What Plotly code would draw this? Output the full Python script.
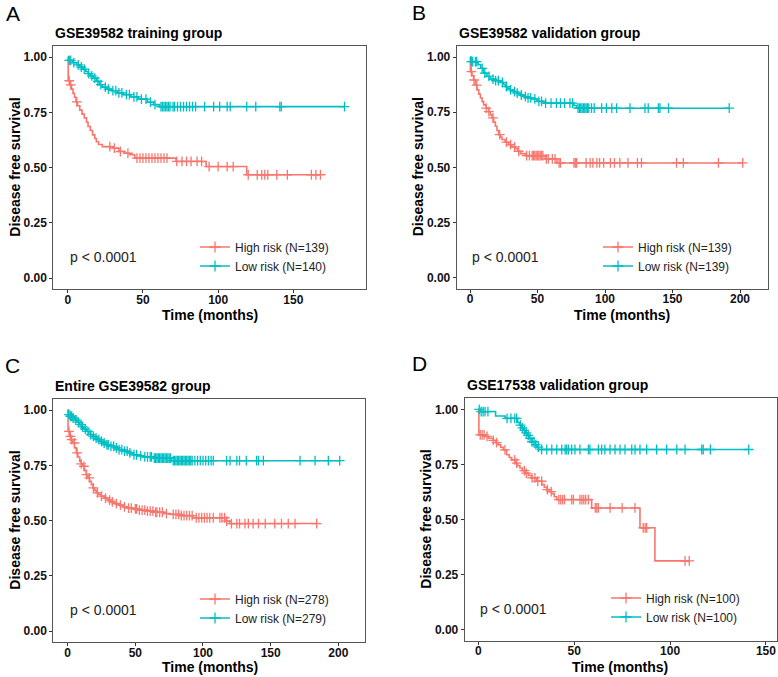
import numpy as np
import plotly.graph_objects as go

HIGH_COLOR = "#F8766D"
LOW_COLOR = "#00BFC4"
FONT = "Liberation Sans, Arial, sans-serif"

# ------------------------------------------------------------------ data
# Kaplan-Meier step points (time in months, survival after the step) and censoring times

# Panel A: GSE39582 training group
a_high_times = [0, 0.3, 1.5, 2.5, 3.5, 4.5, 5.5, 6.5, 8, 9.5, 11, 12.5, 13.5, 15, 16.5, 18, 19, 20.5,
                23, 30, 34, 38, 41, 44.5, 72, 92, 119]
a_high_surv = [1.0, 0.893, 0.874, 0.855, 0.836, 0.818, 0.797, 0.78, 0.76, 0.742, 0.725, 0.705, 0.686,
               0.668, 0.648, 0.632, 0.617, 0.605, 0.595, 0.588, 0.573, 0.565, 0.558, 0.543, 0.528,
               0.505, 0.468]
a_high_end = 168
a_high_cens = [1, 2, 6, 28, 31, 35, 40, 46, 48, 50, 52, 54, 56, 58, 60, 62, 64, 66, 72.5, 76, 79, 82,
               86, 89, 94, 100, 106, 110, 120, 126, 129, 131, 133, 139, 146, 162, 165, 168]
a_low_times = [0, 0.5, 3, 6, 8, 10, 12, 13.5, 15, 17, 19, 21, 23, 26, 29, 33, 37, 42, 47, 53, 57, 61]
a_low_surv = [1.0, 0.985, 0.975, 0.965, 0.955, 0.945, 0.935, 0.925, 0.915, 0.905, 0.89, 0.875, 0.864,
              0.855, 0.848, 0.838, 0.83, 0.82, 0.81, 0.796, 0.785, 0.776]
a_low_end = 184
a_low_cens = [1, 2, 4, 7, 9, 11, 14, 16, 18, 20, 22, 25, 27, 30, 32, 34, 36, 39, 41, 44, 46, 49, 52,
              55, 58, 62, 63, 64, 65, 66, 67, 68, 70, 71, 73, 75, 77, 79, 81, 83, 85, 91, 97, 101,
              106, 108, 119, 125, 141, 142, 184]

# Panel B: GSE39582 validation group
b_high_times = [0, 0.3, 1.5, 2.7, 4, 5.2, 6.5, 7.7, 9, 10.1, 12, 13.8, 15, 16.3, 17.5, 18.8, 20, 21.2,
                22.5, 23.7, 26, 28.6, 31, 33.6, 35.5, 37.3, 41, 55.8, 64.4]
b_high_surv = [1.0, 0.934, 0.915, 0.896, 0.873, 0.851, 0.832, 0.814, 0.798, 0.783, 0.768, 0.753, 0.738,
               0.724, 0.705, 0.686, 0.667, 0.648, 0.637, 0.626, 0.614, 0.603, 0.593, 0.584, 0.573,
               0.562, 0.553, 0.538, 0.52]
b_high_end = 202
b_high_cens = [1, 3, 5, 12, 14, 17, 22, 27, 30, 33, 36, 42, 44, 46, 47, 48, 49, 50, 51, 52, 53, 54,
               56.5, 58, 61, 63, 66, 67, 77, 78, 79, 86, 89, 91, 94, 96, 99, 104, 107, 111, 117, 124,
               127, 153, 158, 184, 202]
b_low_times = [0, 0.5, 6, 8, 10, 12.5, 15, 18, 22.5, 24.5, 26.2, 28, 29.9, 32, 34.8, 37, 39.8, 42.5,
               45.9, 49.6, 54.6, 77, 79]
b_low_surv = [1.0, 0.979, 0.965, 0.949, 0.927, 0.912, 0.9, 0.893, 0.885, 0.876, 0.866, 0.858, 0.851,
              0.843, 0.836, 0.828, 0.821, 0.815, 0.81, 0.799, 0.791, 0.78, 0.768]
b_low_end = 192
b_low_cens = [1, 2, 4, 5, 9, 11, 14, 17, 19, 21, 24, 27, 30, 33, 35, 38, 41, 43, 45, 48, 51, 53, 56,
              60, 64, 67, 70, 74, 76, 80, 81, 82, 83, 84, 85, 86, 87, 88, 90, 92, 97.5, 101, 105,
              108.6, 118.5, 129.6, 132, 139.5, 140.7, 147, 192]

# Panel C: Entire GSE39582 group
c_high_times = [0, 0.3, 1.5, 2.7, 3.9, 5.1, 6.4, 7.6, 8.9, 10, 11.3, 12.5, 13.7, 15, 16.2, 17.5, 18.7,
                20, 21.1, 23, 24.8, 27, 29.8, 32, 34.7, 37.5, 40.9, 44, 48.3, 53, 58.1, 64, 70.4, 76,
                82.8, 92.6, 117.2, 119.7]
c_high_surv = [1.0, 0.904, 0.881, 0.866, 0.851, 0.829, 0.806, 0.788, 0.769, 0.757, 0.746, 0.727,
               0.708, 0.693, 0.678, 0.663, 0.648, 0.637, 0.626, 0.618, 0.611, 0.602, 0.593, 0.585,
               0.577, 0.57, 0.562, 0.557, 0.553, 0.548, 0.543, 0.538, 0.532, 0.528, 0.523, 0.513,
               0.498, 0.487]
c_high_end = 184
c_high_cens = [1, 2, 3, 5, 7, 10, 12, 14, 16, 19, 22, 25, 28, 31, 33, 36, 39, 42, 45, 47, 50, 51, 53,
               55, 57, 59, 61, 63, 65, 66, 68, 70, 73, 78, 80, 82, 84, 86, 88, 90, 92, 95, 97, 99,
               101, 103, 105, 107.6, 112.5, 114, 116, 117.5, 121, 125, 127, 131, 133.5, 137, 141,
               146, 153, 158, 163, 168, 184]
c_low_times = [0, 0.5, 2, 3.9, 5.5, 7, 8.9, 10.5, 12, 13.8, 15.5, 17, 18.7, 20.5, 22, 23.7, 26, 28.6,
               31.5, 34.7, 37.5, 40.9, 44.5, 48.3, 52, 55.7, 63, 76.6]
c_low_surv = [1.0, 0.979, 0.972, 0.964, 0.955, 0.945, 0.934, 0.924, 0.914, 0.904, 0.896, 0.889, 0.881,
              0.873, 0.866, 0.859, 0.851, 0.843, 0.836, 0.829, 0.821, 0.814, 0.806, 0.798, 0.793,
              0.788, 0.783, 0.771]
c_low_end = 201
c_low_cens = [1, 2, 3, 4, 6, 8, 10, 11, 13, 15, 17, 19, 21, 23, 25, 27, 29, 30, 32, 34, 36, 38, 40,
              42, 44, 46, 49, 51, 54, 57, 59, 61, 62, 64, 65, 66, 67, 68, 69, 70, 71, 72, 73, 74, 75,
              76, 78, 79, 80, 81, 82, 83, 84, 85, 86, 87, 88, 89, 90, 91, 92, 94, 96, 98, 100, 102,
              104, 106, 107.6, 117.5, 120, 125, 127, 132, 139.6, 141, 144.6, 171.7, 182.8, 192.6, 201]

# Panel D: GSE17538 validation group
d_high_times = [0, 0.3, 3.5, 5.2, 7.8, 9.1, 10.4, 11.7, 13, 14.8, 16.1, 17.4, 19.1, 20.4, 21.7, 23,
                24.4, 26.1, 27.8, 30.4, 33.1, 34.4, 35.7, 37, 38.3, 39.6, 40.9, 59.1, 84.3, 92.1]
d_high_surv = [1.0, 0.884, 0.877, 0.869, 0.859, 0.849, 0.839, 0.828, 0.816, 0.794, 0.782, 0.771,
               0.756, 0.745, 0.734, 0.722, 0.711, 0.7, 0.689, 0.674, 0.659, 0.647, 0.636, 0.627,
               0.618, 0.604, 0.591, 0.553, 0.463, 0.313]
d_high_end = 110
d_high_cens = [1, 2, 3, 4.5, 7.8, 9.5, 13.9, 19, 20, 24, 25, 28, 29.5, 31, 33, 36, 38, 42, 43, 44,
               45, 48.7, 49.6, 53, 54, 55, 56, 57.4, 61, 61.8, 62.6, 68.7, 75, 81.7, 86, 87, 87.8,
               107.8, 110]
d_low_times = [0, 1, 9, 14, 20.5, 21.5, 22.5, 23.5, 24.5, 25.5, 26.5, 28, 29.5, 30.5, 31.5]
d_low_surv = [1.0, 0.99, 0.97, 0.959, 0.94, 0.928, 0.916, 0.905, 0.893, 0.882, 0.868, 0.853, 0.84,
              0.829, 0.818]
d_low_end = 141
d_low_cens = [0.5, 1.5, 2.5, 3.5, 5, 15, 17, 19, 20, 22, 23, 24, 25, 26, 27, 28, 29, 30, 31.3, 33,
              35.7, 38.3, 40.9, 43.5, 45.3, 46.1, 47, 48.7, 50.4, 53, 57.4, 58.2, 62.6, 64.3, 66,
              68.7, 71.3, 73.9, 76.5, 80, 81.7, 84.3, 87.8, 93, 98.2, 103.5, 107.8, 116.5, 117.3,
              121, 141]

panel_titles = ["GSE39582 training group", "GSE39582 validation group",
                "Entire GSE39582 group", "GSE17538 validation group"]
panel_letters = ["A", "B", "C", "D"]
n_high = [139, 139, 278, 100]
n_low = [140, 139, 279, 100]
p_text = "p < 0.0001"
y_tick_vals = [0, 0.25, 0.5, 0.75, 1.0]
y_tick_text = ["0.00", "0.25", "0.50", "0.75", "1.00"]
x_tick_sets = [[0, 50, 100, 150], [0, 50, 100, 150, 200], [0, 50, 100, 150, 200], [0, 50, 100, 150]]

curves = [
    ((a_high_times, a_high_surv, a_high_end, a_high_cens), (a_low_times, a_low_surv, a_low_end, a_low_cens)),
    ((b_high_times, b_high_surv, b_high_end, b_high_cens), (b_low_times, b_low_surv, b_low_end, b_low_cens)),
    ((c_high_times, c_high_surv, c_high_end, c_high_cens), (c_low_times, c_low_surv, c_low_end, c_low_cens)),
    ((d_high_times, d_high_surv, d_high_end, d_high_cens), (d_low_times, d_low_surv, d_low_end, d_low_cens)),
]

# ------------------------------------------------------------------ layout (pixel geometry)
W, H = 778, 677


def fx(p):
    return p / W


def fy(p):
    return 1 - p / H


layout_cfg = [
    dict(box=(53.3, 46, 365.7, 289.3), xr=(-9.6, 198.1), legend=(195, 232.5), letter=(4, 13),
         title=(53.3, 33.3), ylab=15, xlab=(209.5, 314.5)),
    dict(box=(456.7, 46, 767.7, 288.7), xr=(-9.85, 220.5), legend=(598, 232.5), letter=(410, 12),
         title=(456.7, 33.3), ylab=418, xlab=(622, 314.5)),
    dict(box=(53.3, 399, 365, 642.3), xr=(-10.6, 219.7), legend=(195, 584.5), letter=(3, 365),
         title=(53.3, 386), ylab=15, xlab=(209.5, 666.5)),
    dict(box=(464.7, 398.3, 776.7, 641), xr=(-7.1, 155.6), legend=(606, 583.5), letter=(410, 363),
         title=(465, 385), ylab=426, xlab=(620, 666.5)),
]


def km_path(times, surv, end):
    assert len(times) == len(surv)
    return list(times) + [end], list(surv) + [surv[-1]]


def surv_at(times, surv, ts):
    idx = np.searchsorted(np.asarray(times), np.asarray(ts), side="right") - 1
    return np.asarray(surv)[idx]


fig = go.Figure()
annotations = []
layout_axes = {}

for i in range(4):
    cfg = layout_cfg[i]
    sfx = "" if i == 0 else str(i + 1)
    xa, ya = "x" + sfx, "y" + sfx
    legend_name = "legend" + sfx
    labels = [f"High risk (N={n_high[i]})", f"Low risk (N={n_low[i]})"]
    for (times, surv, end, cens), color, label in zip(curves[i], [HIGH_COLOR, LOW_COLOR], labels):
        px_, py_ = km_path(times, surv, end)
        fig.add_trace(go.Scatter(x=px_, y=py_, mode="lines", line=dict(color=color, width=1.6, shape="hv"),
                                 xaxis=xa, yaxis=ya, showlegend=False, hoverinfo="skip"))
        fig.add_trace(go.Scatter(x=cens, y=surv_at(times, surv, cens), mode="markers",
                                 marker=dict(symbol="cross-thin", size=7, line=dict(color=color, width=1.3)),
                                 xaxis=xa, yaxis=ya, showlegend=False, hoverinfo="skip"))
        # legend entry
        fig.add_trace(go.Scatter(x=[None], y=[None], mode="lines+markers", name=label,
                                 line=dict(color=color, width=1.6),
                                 marker=dict(symbol="cross-thin", size=8, line=dict(color=color, width=1.3)),
                                 xaxis=xa, yaxis=ya, legend=legend_name, showlegend=True))

    x0, y0, x1, y1 = cfg["box"]
    axis_common = dict(showline=True, mirror=True, linecolor="#555555", linewidth=1, showgrid=False,
                       zeroline=False, ticks="outside", ticklen=3, tickwidth=1, tickcolor="#333333",
                       tickfont=dict(family=FONT, size=12, color="#111111", weight="bold"))
    layout_axes["xaxis" + sfx] = dict(axis_common, domain=[fx(x0), fx(x1)], range=list(cfg["xr"]),
                                      tickvals=x_tick_sets[i], anchor=ya, ticklabelstandoff=-4)
    layout_axes["yaxis" + sfx] = dict(axis_common, domain=[fy(y1), fy(y0)], range=[-0.05, 1.05],
                                      tickvals=y_tick_vals, ticktext=y_tick_text, anchor=xa)
    layout_axes[legend_name] = dict(x=fx(cfg["legend"][0]), y=fy(cfg["legend"][1]), xanchor="left",
                                    yanchor="top", bgcolor="rgba(0,0,0,0)", borderwidth=0,
                                    font=dict(family=FONT, size=12, color="#222222"), tracegroupgap=0)

    annotations.append(dict(text=panel_letters[i], x=fx(cfg["letter"][0]), y=fy(cfg["letter"][1]),
                            xref="paper", yref="paper", xanchor="left", yanchor="middle", showarrow=False,
                            font=dict(family=FONT, size=21, color="black")))
    annotations.append(dict(text="<b>" + panel_titles[i] + "</b>", x=fx(cfg["title"][0]), y=fy(cfg["title"][1]),
                            xref="paper", yref="paper", xanchor="left", yanchor="middle", showarrow=False,
                            font=dict(family=FONT, size=14, color="black")))
    annotations.append(dict(text="<b>Disease free survival</b>", x=fx(cfg["ylab"]), y=fy((y0 + y1) / 2),
                            xref="paper", yref="paper", xanchor="center", yanchor="middle", textangle=-90,
                            showarrow=False, font=dict(family=FONT, size=14, color="black")))
    annotations.append(dict(text="<b>Time (months)</b>", x=fx(cfg["xlab"][0]), y=fy(cfg["xlab"][1]),
                            xref="paper", yref="paper", xanchor="center", yanchor="middle",
                            showarrow=False, font=dict(family=FONT, size=14, color="black")))
    annotations.append(dict(text=p_text, x=0, y=0.095, xref=xa, yref=ya, xanchor="left", yanchor="middle",
                            showarrow=False, font=dict(family=FONT, size=14, color="#222222")))

fig.update_layout(width=W, height=H, margin=dict(l=0, r=0, t=0, b=0), paper_bgcolor="white",
                  plot_bgcolor="white", annotations=annotations, **layout_axes)
# remove the default page margin so the 778x677 figure fills the window exactly
fig.write_html("out.html", config={"displayModeBar": False},
               post_script="document.body.style.margin='0';document.body.style.overflow='hidden';")
